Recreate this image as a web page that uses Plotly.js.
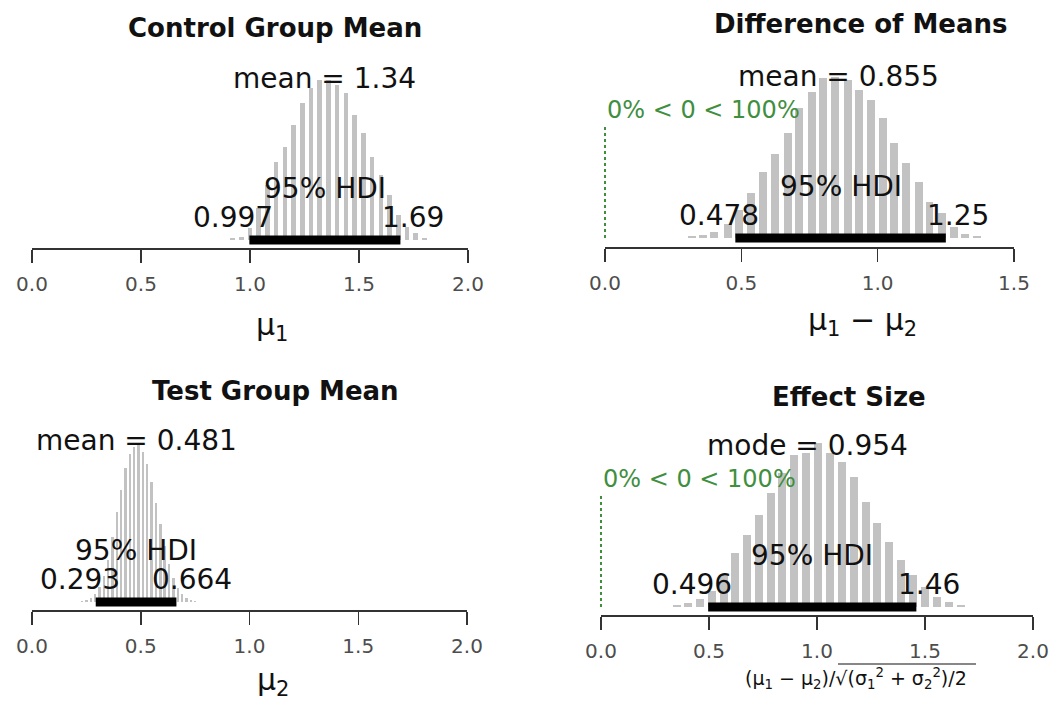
<!DOCTYPE html>
<html>
<head>
<meta charset="utf-8">
<script src="https://cdn.plot.ly/plotly-3.0.1.min.js"></script>
<style>html,body{margin:0;padding:0;background:#fff}#chart{width:1063px;height:706px}</style>
</head>
<body>
<div id="chart"></div>
<script>
// ---------------- data ----------------
const panelTitles = ['Control Group Mean', 'Difference of Means', 'Test Group Mean', 'Effect Size'];
const centralLabels = ['mean', 'mean', 'mean', 'mode'];
const centralValues = [1.34, 0.855, 0.481, 0.954];
const hdiLow = [0.997, 0.478, 0.293, 0.496];
const hdiHigh = [1.69, 1.25, 0.664, 1.46];
const compValue = 0;
const compTexts = [null, '0% < 0 < 100%', null, '0% < 0 < 100%'];
const axisLabels = ['μ<sub>1</sub>', 'μ<sub>1</sub> − μ<sub>2</sub>', 'μ<sub>2</sub>',
  '(μ<sub>1</sub> − μ<sub>2</sub>)/√(σ<sub>1</sub><sup>2</sup> + σ<sub>2</sub><sup>2</sup>)/2'];
const tickValsA = [0, 0.5, 1.0, 1.5, 2.0];
const tickValsB = [0, 0.5, 1.0, 1.5];

// histogram bins (centres) and bar heights (relative frequency, arbitrary units)
const ctrlMids = [0.92,0.96,1.00,1.04,1.08,1.12,1.16,1.20,1.24,1.28,1.32,1.36,1.40,1.44,1.48,1.52,1.56,1.60,1.64,1.68,1.72,1.76,1.80];
const ctrlFreq = [2,3,12,32,55,78,93,115,137,152,160,160,155,147,125,107,83,65,45,25,13,7,2];

const diffMids = [0.32,0.36,0.40,0.45,0.49,0.535,0.58,0.625,0.67,0.71,0.76,0.80,0.845,0.89,0.93,0.975,1.02,1.06,1.105,1.15,1.19,1.235,1.28,1.32,1.365];
const diffFreq = [2,3,6,14,28,45,66,84,105,130,146,160,161,158,148,138,120,95,75,56,36,25,11,4,2];

const testMids = [0.23,0.25,0.27,0.29,0.31,0.33,0.35,0.37,0.39,0.41,0.43,0.45,0.47,0.49,0.51,0.53,0.55,0.57,0.59,0.61,0.63,0.65,0.67,0.69,0.71,0.73,0.75];
const testFreq = [1,2,4,8,15,26,42,65,90,112,134,148,155,157,150,138,120,99,78,56,38,24,14,8,4,2,1];

const effMids = [0.35,0.405,0.46,0.515,0.57,0.62,0.675,0.73,0.785,0.84,0.895,0.95,1.005,1.06,1.115,1.17,1.225,1.28,1.335,1.39,1.445,1.50,1.555,1.61,1.665];
const effFreq = [2,4,8,16,32,54,72,92,114,134,152,154,164,154,145,130,105,84,65,47,32,20,10,5,2];

const mids = [ctrlMids, diffMids, testMids, effMids];
const freqs = [ctrlFreq, diffFreq, testFreq, effFreq];

// ---------------- layout geometry ----------------
const W = 1063, H = 706;
const FONT = 'DejaVu Sans, Liberation Sans, Arial, sans-serif';
const GREEN = '#3f8f3f';
const geo = [
  {x0: 32,  x1: 468,  top: 50,  axisY: 248, off: 8, range: [0, 2],   ticks: tickValsA, barW: 0.021, title: [275, 28],  xl: [272, 326], xlSize: 30},
  {x0: 605, x1: 1014, top: 50,  axisY: 247, off: 9, range: [0, 1.5], ticks: tickValsB, barW: 0.029, title: [861, 24],  xl: [862, 322], xlSize: 30},
  {x0: 32,  x1: 467,  top: 410, axisY: 610, off: 8, range: [0, 2],   ticks: tickValsA, barW: 0.011, title: [275, 391], xl: [273, 681], xlSize: 30},
  {x0: 601, x1: 1033, top: 410, axisY: 615, off: 8, range: [0, 2],   ticks: tickValsA, barW: 0.037, title: [849, 397], xl: [856, 678], xlSize: 19}
];
const px = p => p / W;
const py = p => 1 - p / H;

// text width measurement for R-style adj placement
const ctx = document.createElement('canvas').getContext('2d');
function textW(s, size) { ctx.font = size + 'px "DejaVu Sans"'; return ctx.measureText(s).width; }

const traces = [];
const annotations = [];
const shapes = [];
const layout = {
  width: W, height: H,
  margin: {l: 0, r: 0, t: 0, b: 0},
  paper_bgcolor: '#fff', plot_bgcolor: '#fff',
  showlegend: false,
  bargap: 0,
  font: {family: FONT, color: '#111'}
};

geo.forEach((g, i) => {
  const n = i === 0 ? '' : String(i + 1);
  const xa = 'x' + n, ya = 'y' + n;
  const heightPx = g.axisY - g.top;
  layout['xaxis' + n] = {
    domain: [px(g.x0), px(g.x1)], range: g.range, anchor: ya,
    showgrid: false, zeroline: false, showline: true, linecolor: '#333', linewidth: 1.5,
    ticks: 'outside', ticklen: 13, tickwidth: 1.5, tickcolor: '#333',
    tickvals: g.ticks, tickformat: '.1f', ticklabelstandoff: 4,
    tickfont: {family: FONT, size: 20, color: '#4d4d4d'}, fixedrange: true
  };
  layout['yaxis' + n] = {
    domain: [py(g.axisY), py(g.top)], range: [-g.off, heightPx - g.off], anchor: xa,
    visible: false, fixedrange: true
  };
  traces.push({
    type: 'bar', x: mids[i], y: freqs[i], width: g.barW, xaxis: xa, yaxis: ya,
    marker: {color: '#c2c2c2', line: {width: 0}}, hoverinfo: 'skip'
  });
  // HDI bar
  traces.push({
    type: 'scatter', mode: 'lines', x: [hdiLow[i], hdiHigh[i]], y: [0, 0], xaxis: xa, yaxis: ya,
    line: {color: '#000', width: 9}, hoverinfo: 'skip'
  });
  // comparison value (drawn as an unclipped shape: x mapped through the axis range)
  if (compTexts[i]) {
    const frac = (compValue - g.range[0]) / (g.range[1] - g.range[0]);
    const xp = px(g.x0 + frac * (g.x1 - g.x0));
    shapes.push({
      type: 'line', xref: 'paper', yref: ya, x0: xp, x1: xp, y0: 0, y1: 114,
      line: {color: GREEN, width: 2, dash: 'dot'}
    });
    annotations.push({
      xref: xa, yref: ya, x: compValue, y: 128, text: compTexts[i], showarrow: false,
      xanchor: 'left', yanchor: 'middle', font: {family: FONT, size: 24, color: GREEN}
    });
  }
  // title
  annotations.push({
    xref: 'paper', yref: 'paper', x: px(g.title[0]), y: py(g.title[1]), text: '<b>' + panelTitles[i] + '</b>',
    showarrow: false, xanchor: 'center', yanchor: 'middle', font: {family: FONT, size: 26, color: '#111'}
  });
  // axis label
  annotations.push({
    xref: 'paper', yref: 'paper', x: px(g.xl[0]), y: py(g.xl[1]), text: axisLabels[i],
    showarrow: false, xanchor: 'center', yanchor: 'middle', font: {family: FONT, size: g.xlSize, color: '#111'}
  });
  // central tendency
  annotations.push({
    xref: xa, yref: ya, x: centralValues[i], y: 162, text: centralLabels[i] + ' = ' + centralValues[i],
    showarrow: false, xanchor: 'center', yanchor: 'middle', font: {family: FONT, size: 28, color: '#111'}
  });
  // 95% HDI
  annotations.push({
    xref: xa, yref: ya, x: (hdiLow[i] + hdiHigh[i]) / 2, y: 52, text: '95% HDI',
    showarrow: false, xanchor: 'center', yanchor: 'middle', font: {family: FONT, size: 28, color: '#111'}
  });
  const lowT = String(hdiLow[i]), highT = String(hdiHigh[i]);
  annotations.push({
    xref: xa, yref: ya, x: hdiLow[i], y: 23, text: lowT, showarrow: false,
    xanchor: 'center', yanchor: 'middle', xshift: (0.5 - 0.7) * textW(lowT, 28),
    font: {family: FONT, size: 28, color: '#111'}
  });
  annotations.push({
    xref: xa, yref: ya, x: hdiHigh[i], y: 23, text: highT, showarrow: false,
    xanchor: 'center', yanchor: 'middle', xshift: (0.5 - 0.3) * textW(highT, 28),
    font: {family: FONT, size: 28, color: '#111'}
  });
});

// overline of the square root in the effect-size label
shapes.push({type: 'line', xref: 'paper', yref: 'paper', x0: px(838), x1: px(976), y0: py(664), y1: py(664),
  line: {color: '#111', width: 1.2}});

layout.annotations = annotations;
layout.shapes = shapes;
Plotly.newPlot('chart', traces, layout, {staticPlot: true, displayModeBar: false});
</script>
</body>
</html>
